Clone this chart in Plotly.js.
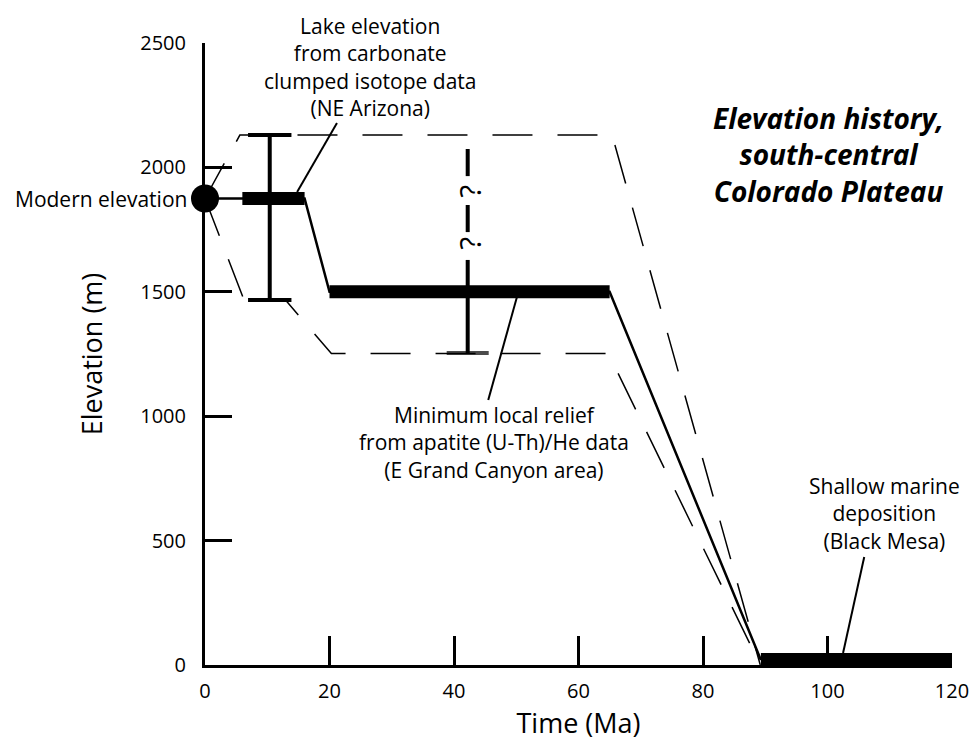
<!DOCTYPE html>
<html>
<head>
<meta charset="utf-8">
<script src="https://cdn.plot.ly/plotly-3.0.1.min.js"></script>
<style>html,body{margin:0;padding:0;background:#fff;}#chart{width:974px;height:741px;}</style>
</head>
<body>
<div id="chart"></div>
<script>
// ---- data (age in Ma, elevation in m) ----
const xTickVals = [0, 20, 40, 60, 80, 100, 120];
const yTickVals = [0, 500, 1000, 1500, 2000, 2500];

const modernAge = [0];
const modernElev = [1875];

// best-estimate elevation path
const pathAge  = [0, 16, 20, 65, 89.3];
const pathElev = [1875, 1875, 1500, 1500, 20];

// thick constraint bars
const barStart = [6, 20, 89.3];
const barEnd   = [16, 65, 120];
const barElev  = [1875, 1500, 20];

// dashed envelope
const upperAge  = [0, 5.6, 65.4, 89.2];
const upperElev = [1875, 2130, 2130, 0];
const lowerAge  = [0, 6.3, 13, 20.3, 64.8, 89.2];
const lowerElev = [1875, 1465, 1465, 1252, 1252, 0];

// clumped isotope error bar
const lakeAge = [10.4, 10.4];
const lakeRange = [1467, 2130];

// apatite relief bar
const reliefAge = [42.2, 42.2];
const reliefSolid = [1254, 1628];
const reliefDashAge = [42.2, 42.2, null, 42.2, 42.2];
const reliefDashElev = [2074, 1965, null, 1849, 1740];
const reliefQElev = [1905, 1696];

// leader lines [x0, y0, x1, y1]
const leaderLake    = [21.2, 2178, 14.8, 1901];
const leaderRelief  = [45.5, 1065, 50.1, 1478];
const leaderMarine  = [105.9, 434, 102.5, 48];

const traces = [];
const blk = '#000';

traces.push({x: upperAge, y: upperElev, mode: 'lines', line: {color: blk, width: 1.5, dash: '40px,25px'}});
traces.push({x: lowerAge, y: lowerElev, mode: 'lines', line: {color: blk, width: 1.5, dash: '40px,25px'}});
traces.push({x: pathAge, y: pathElev, mode: 'lines', line: {color: blk, width: 2.5}});
for (let i = 0; i < barStart.length; i++) {
  traces.push({x: [barStart[i], barEnd[i]], y: [barElev[i], barElev[i]], mode: 'lines',
    line: {color: blk, width: i === 2 ? 14 : 13}});
}
traces.push({x: lakeAge, y: lakeRange, mode: 'lines+markers', line: {color: blk, width: 4},
  marker: {symbol: 'line-ew', size: 31, color: blk, line: {color: blk, width: 4}}});
traces.push({x: reliefAge, y: reliefSolid, mode: 'lines+markers', line: {color: blk, width: 4},
  marker: {symbol: 'line-ew', size: [30, 0], color: blk, line: {color: blk, width: 4}}});
traces.push({x: reliefDashAge, y: reliefDashElev, mode: 'lines', line: {color: blk, width: 4}});
traces.push({x: modernAge, y: modernElev, mode: 'markers', marker: {size: 28, color: blk}});
traces.forEach(t => { t.cliponaxis = false; t.hoverinfo = 'skip'; t.showlegend = false; });

const font = 'Open Sans, Noto Sans, sans-serif';
const ann = (x, y, text, size, extra) => Object.assign({x, y, xref: 'x', yref: 'y', text, showarrow: false,
  font: {family: font, size: size || 21, color: blk}}, extra || {});

const annotations = [
  ann(modernAge[0], modernElev[0], 'Modern elevation', 21, {xanchor: 'right', xshift: -16}),
  ann(26.5, 2405, 'Lake elevation<br>from carbonate<br>clumped isotope data<br>(NE Arizona)'),
  ann(46.4, 893, 'Minimum local relief<br>from apatite (U-Th)/He data<br>(E Grand Canyon area)'),
  ann(109.2, 609, 'Shallow marine<br>deposition<br>(Black Mesa)'),
  ann(100.1, 2050, '<b><i>Elevation history,<br>south-central<br>Colorado Plateau</i></b>', 28),
  ann(reliefAge[0], reliefQElev[0], '?', 30, {textangle: -90, xshift: 1}),
  ann(reliefAge[0], reliefQElev[1], '?', 30, {textangle: -90, xshift: 1})
];

const mkLeader = (l) => ({type: 'line', xref: 'x', yref: 'y', x0: l[0], y0: l[1], x1: l[2], y1: l[3],
  line: {color: blk, width: 2}});

const layout = {
  width: 974, height: 741,
  margin: {l: 205, r: 22, t: 43, b: 76},
  paper_bgcolor: '#fff', plot_bgcolor: '#fff',
  showlegend: false, hovermode: false,
  xaxis: {
    range: [0, 120], tickvals: xTickVals, ticktext: xTickVals.map(String),
    showgrid: false, zeroline: false, showline: true, linecolor: blk, linewidth: 3,
    ticks: 'inside', ticklen: 29, tickwidth: 3, tickcolor: blk, ticklabelstandoff: 6,
    tickfont: {family: font, size: 20, color: blk},
    title: {text: 'Time (Ma)', font: {family: font, size: 27, color: blk}, standoff: 14}
  },
  yaxis: {
    range: [0, 2500], tickvals: yTickVals, ticktext: yTickVals.map(String),
    showgrid: false, zeroline: false, showline: true, linecolor: blk, linewidth: 3,
    ticks: 'inside', ticklen: 27, tickwidth: 3, tickcolor: blk, ticklabelstandoff: 12,
    tickfont: {family: font, size: 20, color: blk},
    title: {text: 'Elevation (m)', font: {family: font, size: 27, color: blk}, standoff: 30}
  },
  annotations,
  shapes: [mkLeader(leaderLake), mkLeader(leaderRelief), mkLeader(leaderMarine)]
};

Plotly.newPlot('chart', traces, layout, {displayModeBar: false, staticPlot: true});
</script>
</body>
</html>
